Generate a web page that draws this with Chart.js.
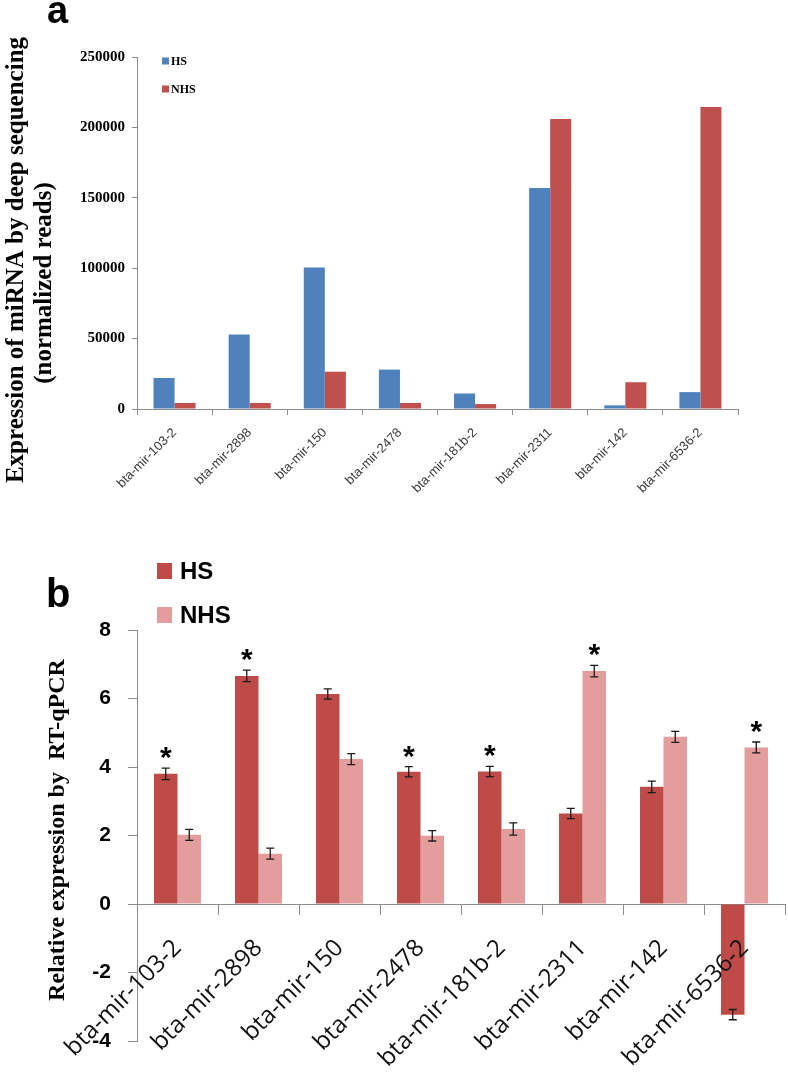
<!DOCTYPE html>
<html><head><meta charset="utf-8">
<script src="https://cdn.jsdelivr.net/npm/chart.js@4/dist/chart.umd.min.js"></script>
<style>
html,body{margin:0;padding:0;background:#fff;}
#wrap{position:relative;width:788px;height:1078px;overflow:hidden;background:#fff;}
#c1{position:absolute;left:0;top:0;}
#c2{position:absolute;left:0;top:520px;}
</style></head><body>
<div id="wrap"><canvas id="c1" width="788" height="520"></canvas><canvas id="c2" width="788" height="558"></canvas></div>
<script>
// ---- data ----
const categories = ['bta-mir-103-2','bta-mir-2898','bta-mir-150','bta-mir-2478','bta-mir-181b-2','bta-mir-2311','bta-mir-142','bta-mir-6536-2'];
const seriesNames = ['HS','NHS'];
const seqHS  = [22000, 53000, 100500, 28000, 11000, 157000, 2600, 12000];
const seqNHS = [4300, 4300, 26500, 4300, 3500, 206000, 19000, 214500];
const seqTicks = [0, 50000, 100000, 150000, 200000, 250000];
const qpcrHS  = [3.80, 6.66, 6.13, 3.86, 3.87, 2.64, 3.42, -3.23];
const qpcrNHS = [2.02, 1.47, 4.23, 1.99, 2.19, 6.80, 4.88, 4.57];
const qpcrHSErr  = [0.17, 0.17, 0.15, 0.15, 0.15, 0.15, 0.17, 0.15];
const qpcrNHSErr = [0.16, 0.16, 0.16, 0.15, 0.18, 0.17, 0.16, 0.16];
const sigHS  = [true, true, false, true, true, false, false, false];
const sigNHS = [false, false, false, false, false, true, false, true];
const qpcrTicks = [-4, -2, 0, 2, 4, 6, 8];
const titleA = ['Expression of miRNA by deep sequencing', '(normalized reads)'];
const titleB = ['Relative expression by  RT-qPCR'];

// ---- plugin for extras: error bars, stars, legend, titles ----
const extras = {
  id: 'extras',
  afterDatasetsDraw(chart, args, o) {
    if (!o.errors) return;
    const ctx = chart.ctx, ys = chart.scales.y;
    ctx.save();
    chart.data.datasets.forEach((ds, i) => {
      const meta = chart.getDatasetMeta(i);
      const errs = o.errors[i], sig = o.sig[i];
      meta.data.forEach((el, j) => {
        const v = ds.data[j], e = errs[j];
        const yt = ys.getPixelForValue(v + e), yb = ys.getPixelForValue(v - e);
        ctx.strokeStyle = '#1a1a1a'; ctx.lineWidth = 1.3;
        ctx.beginPath();
        ctx.moveTo(el.x, yt); ctx.lineTo(el.x, yb);
        ctx.moveTo(el.x - 4, yt); ctx.lineTo(el.x + 4, yt);
        ctx.moveTo(el.x - 4, yb); ctx.lineTo(el.x + 4, yb);
        ctx.stroke();
        if (sig[j]) {
          const sy = ys.getPixelForValue(Math.max(v, 0) + e) - 18;
          ctx.fillStyle = '#000';
          ctx.font = 'bold 30px "Liberation Sans"';
          ctx.textAlign = 'center'; ctx.textBaseline = 'alphabetic';
          ctx.fillText('*', el.x, sy + 0.57 * 30);
        }
      });
    });
    ctx.restore();
  },
  afterDraw(chart, args, o) {
    const ctx = chart.ctx;
    ctx.save();
    ctx.fillStyle = '#000';
    ctx.font = o.letterFont; ctx.textAlign = 'left'; ctx.textBaseline = 'alphabetic';
    ctx.fillText(o.letter, o.letterX, o.letterY);
    ctx.font = o.titleFont; ctx.textAlign = 'center'; ctx.textBaseline = 'middle';
    o.title.forEach((t, k) => {
      ctx.save();
      ctx.translate(o.titleX[k], o.titleY[k]);
      ctx.rotate(-Math.PI / 2);
      ctx.fillText(t, 0, 0);
      ctx.restore();
    });
    chart.data.datasets.forEach((ds, i) => {
      const y = o.legY + i * o.legGap;
      ctx.fillStyle = ds.backgroundColor;
      ctx.fillRect(o.legX, y - o.legBoxH / 2, o.legBoxW, o.legBoxH);
      ctx.fillStyle = '#000';
      ctx.font = o.legFont; ctx.textAlign = 'left'; ctx.textBaseline = 'middle';
      ctx.fillText(ds.label, o.legX + o.legBoxW + o.legTextGap, y + 1);
    });
    ctx.restore();
  }
};
Chart.register(extras);

const axisGray = '#8c8c8c';

new Chart(document.getElementById('c1'), {
  type: 'bar',
  data: {
    labels: categories,
    datasets: [
      { label: seriesNames[0], data: seqHS, backgroundColor: '#4F81BD' },
      { label: seriesNames[1], data: seqNHS, backgroundColor: '#C0504D' }
    ]
  },
  options: {
    responsive: false, animation: false, devicePixelRatio: 1,
    categoryPercentage: 0.56, barPercentage: 1.0,
    layout: { padding: { left: 0, top: 57, right: 50, bottom: 0 } },
    plugins: {
      legend: { display: false }, tooltip: { enabled: false },
      extras: {
        letter: 'a', letterX: 47, letterY: 23, letterFont: 'bold 38px "Liberation Sans"',
        title: titleA, titleX: [17, 45], titleY: [260, 283], titleFont: 'bold 25px "Liberation Serif"',
        legX: 162, legY: 61, legGap: 28, legBoxW: 7, legBoxH: 7, legTextGap: 2, legFont: 'bold 12px "Liberation Serif"'
      }
    },
    scales: {
      x: {
        grid: { drawOnChartArea: false, drawTicks: true, tickLength: 6, color: axisGray, offset: true },
        border: { color: axisGray },
        ticks: { autoSkip: false, minRotation: 45, maxRotation: 45, padding: 10, color: '#3a3a3a',
                 font: { family: 'Liberation Sans', size: 13 } },
        afterFit: s => { s.height = 111; }
      },
      y: {
        min: 0, max: 250000,
        afterBuildTicks: s => { s.ticks = seqTicks.map(v => ({ value: v })); },
        grid: { drawOnChartArea: false, drawTicks: true, tickLength: 5, color: axisGray },
        border: { color: axisGray },
        ticks: { padding: 7, color: '#000', callback: v => String(v),
                 font: { family: 'Liberation Serif', weight: 'bold', size: 15 } },
        afterFit: s => { s.width = 137; }
      }
    }
  }
});

new Chart(document.getElementById('c2'), {
  type: 'bar',
  data: {
    labels: categories,
    datasets: [
      { label: seriesNames[0], data: qpcrHS, backgroundColor: '#BE4B48' },
      { label: seriesNames[1], data: qpcrNHS, backgroundColor: '#E39D9C' }
    ]
  },
  options: {
    responsive: false, animation: false, devicePixelRatio: 1,
    categoryPercentage: 0.58, barPercentage: 1.0,
    layout: { padding: { left: 0, top: 110, right: 3, bottom: 37 } },
    plugins: {
      legend: { display: false }, tooltip: { enabled: false },
      extras: {
        errors: [qpcrHSErr, qpcrNHSErr], sig: [sigHS, sigNHS],
        letter: 'b', letterX: 46, letterY: 87, letterFont: 'bold 40px "Liberation Sans"',
        title: titleB, titleX: [58], titleY: [310], titleFont: 'bold 24px "Liberation Serif"',
        legX: 157, legY: 51, legGap: 44, legBoxW: 15, legBoxH: 16, legTextGap: 8, legFont: 'bold 24px "Liberation Sans"'
      }
    },
    scales: {
      x: {
        axis: 'x',
        position: { y: 0 },
        grid: { drawOnChartArea: false, drawTicks: true, tickLength: 10, color: axisGray, offset: true },
        border: { color: axisGray },
        ticks: { z: 1, autoSkip: false, minRotation: 45, maxRotation: 45, padding: 20, color: '#111',
                 font: { family: 'Open Sans', size: 24 } }
      },
      y: {
        min: -4, max: 8,
        afterBuildTicks: s => { s.ticks = qpcrTicks.map(v => ({ value: v })); },
        grid: { drawOnChartArea: false, drawTicks: true, tickLength: 9, color: axisGray },
        border: { color: axisGray },
        ticks: { padding: 17, color: '#000', font: { family: 'Liberation Sans', weight: 'bold', size: 21 } },
        afterFit: s => { s.width = 137; }
      }
    }
  }
});
</script>
</body></html>
